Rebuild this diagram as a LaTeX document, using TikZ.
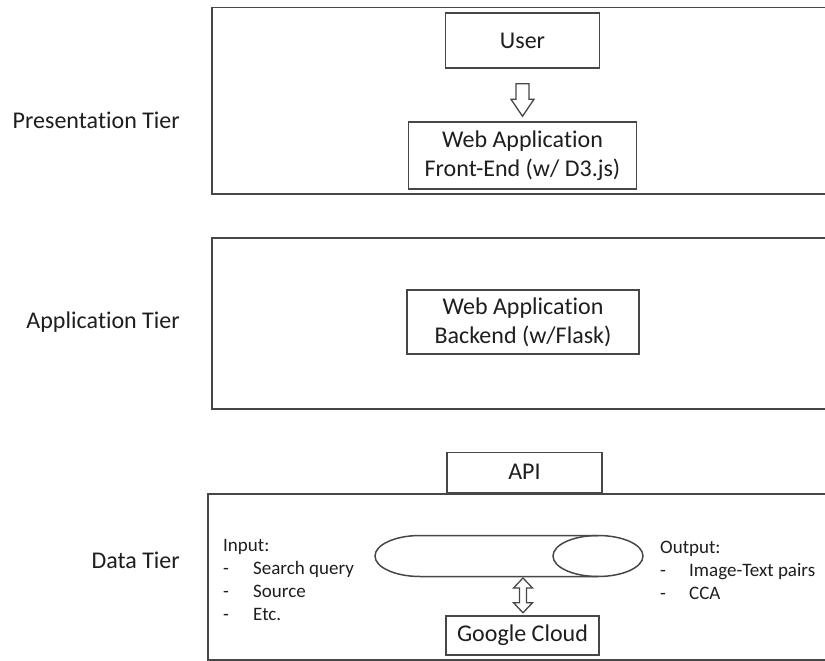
\documentclass[tikz,border=0pt]{standalone}
\usepackage{fontspec}
\setmainfont{Carlito}[RawFeature={-liga;-clig;-calt;-dlig}]
\usetikzlibrary{calc}
\definecolor{ink}{HTML}{1E1E1E}
\begin{document}
\begin{tikzpicture}[x=1pt,y=-1pt,
  frame/.style={draw=black!72, line width=1.5pt, inner sep=0pt, anchor=north west},
  box/.style={draw=black!72, line width=1.5pt, align=center, inner sep=0pt,
    font=\fontsize{24}{29}\selectfont, text=ink},
  lbl/.style={font=\fontsize{24}{29}\selectfont, text=ink, inner sep=0pt, anchor=east},
  lst/.style={font=\fontsize{19}{23}\selectfont, text=ink, inner sep=0pt, align=left, anchor=north west},
  hollow/.style={draw=black!72, line width=1.3pt, fill=white, line join=miter},
  cyl/.style={draw=black!72, line width=1.5pt}
]
\clip (0,0) rectangle (825,661);
\fill[white] (0,0) rectangle (825,661);

% tier frames
\node[frame, minimum width=640pt, minimum height=186pt] (ptier) at (211,7) {};
\node[frame, minimum width=640pt, minimum height=171pt] (atier) at (211,237) {};
\node[frame, minimum width=640pt, minimum height=166pt] (dtier) at (207,493) {};

% tier labels
\node[lbl] (plabel) at (180,120) {Presenta\kern0pt tion Tier};
\node[lbl] (alabel) at (180,322) {Applica\kern0pt tion Tier};
\node[lbl] (dlabel) at (180,560) {Data Tier};

% presentation tier
\node[box, minimum width=154pt, minimum height=55pt] (user) at (522.5,40.5) {User};
\node[box, minimum width=228pt, minimum height=67pt] (fe) at (522.5,155.5) {Web Applica\kern0pt tion\\Front-End (w/ D3.js)};

\coordinate (d1) at ($(user.south)+(0,15)$);
\coordinate (d2) at ($(fe.north)+(0,-5)$);
\draw[hollow] ($(d1)+(-6.5,0)$) -- ($(d1)+(6.5,0)$) -- ($(d2)+(6.5,-17)$) -- ($(d2)+(11.5,-17)$)
  -- (d2) -- ($(d2)+(-11.5,-17)$) -- ($(d2)+(-6.5,-17)$) -- cycle;

% application tier
\node[box, minimum width=232pt, minimum height=64pt] (be) at (523,322) {Web Applica\kern0pt tion\\Backend (w/Flask)};

% data tier
\node[box, minimum width=155pt, minimum height=40pt, anchor=south] (api) at (524.5,493) {API};
\node[box, minimum width=153pt, minimum height=39pt] (gc) at (522.5,635.5) {Google Cloud};

% cylinder
\coordinate (cl) at (420,556);
\coordinate (cr) at (598,556);
\draw[cyl] ($(cr)+(0,-20.5)$) -- ($(cl)+(0,-20.5)$)
  arc[start angle=90, end angle=270, x radius=45pt, y radius=20.5pt]
  -- ($(cr)+(0,20.5)$);
\draw[cyl] (cr) ellipse [x radius=45pt, y radius=20.5pt];

% double arrow cylinder <-> Google Cloud
\coordinate (u1) at (523,578);
\coordinate (u2) at ($(gc.north)+(0.5,-2.5)$);
\draw[hollow] (u1) -- ($(u1)+(9.5,10)$) -- ($(u1)+(3.5,10)$) -- ($(u2)+(3.5,-10)$) -- ($(u2)+(9.5,-10)$)
  -- (u2) -- ($(u2)+(-9.5,-10)$) -- ($(u2)+(-3.5,-10)$) -- ($(u1)+(-3.5,10)$) -- ($(u1)+(-9.5,10)$) -- cycle;

% lists
\node[lst] (inlist) at (223,539.5) {Input:\\\makebox[30pt][l]{-}Search query\\\makebox[30pt][l]{-}Source\\\makebox[30pt][l]{-}Etc.};
\node[lst] (outlist) at (660,540.5) {Output:\\\makebox[29pt][l]{-}Image-Text pairs\\\makebox[29pt][l]{-}CCA};
\end{tikzpicture}
\end{document}
